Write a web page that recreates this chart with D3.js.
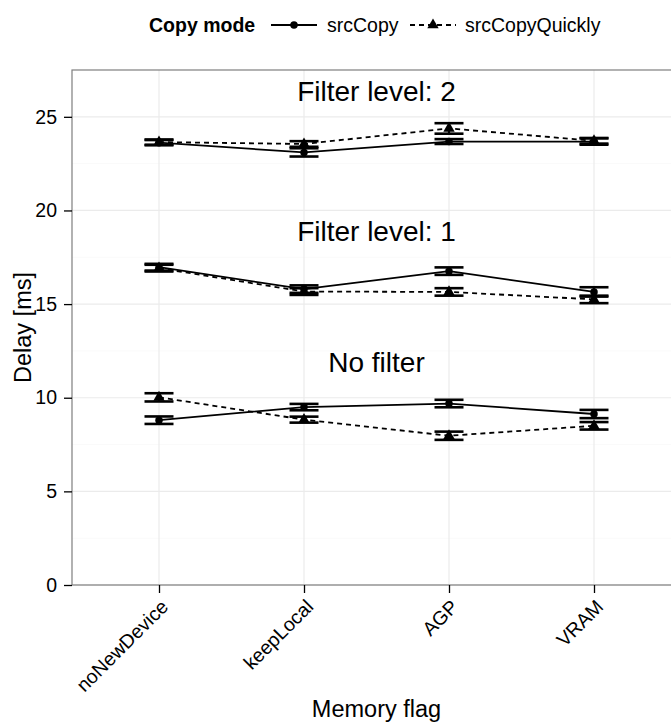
<!DOCTYPE html>
<html>
<head>
<meta charset="utf-8">
<script src="https://cdn.jsdelivr.net/npm/d3@7"></script>
<style>
  html, body { margin: 0; padding: 0; background: #fff; }
  svg { display: block; font-family: "Liberation Sans", Arial, Helvetica, sans-serif; }
</style>
</head>
<body>
<svg id="chart" width="671" height="726"></svg>
<script>
// Memory flags on the x axis
const memoryFlags = ["noNewDevice", "keepLocal", "AGP", "VRAM"];
const copyModes = ["srcCopy", "srcCopyQuickly"];

// Mean delay [ms] and error half-width per filter level, one entry per memory flag
const srcCopyNoFilter        = [8.80, 9.50, 9.69, 9.13];
const srcCopyNoFilterErr     = [0.20, 0.17, 0.20, 0.22];
const quicklyNoFilter        = [10.02, 8.83, 7.97, 8.50];
const quicklyNoFilterErr     = [0.22, 0.16, 0.22, 0.20];

const srcCopyFilter1         = [16.97, 15.80, 16.76, 15.65];
const srcCopyFilter1Err      = [0.18, 0.20, 0.20, 0.25];
const quicklyFilter1         = [16.92, 15.67, 15.65, 15.25];
const quicklyFilter1Err      = [0.18, 0.18, 0.20, 0.20];

const srcCopyFilter2         = [23.62, 23.10, 23.68, 23.68];
const srcCopyFilter2Err      = [0.14, 0.22, 0.13, 0.17];
const quicklyFilter2         = [23.65, 23.55, 24.38, 23.72];
const quicklyFilter2Err      = [0.14, 0.15, 0.28, 0.15];

// Group labels placed between the second and third flag
const groupLabels = ["No filter", "Filter level: 1", "Filter level: 2"];
const groupLabelY = [11.9, 18.9, 26.4];

const yTicks = [0, 5, 10, 15, 20, 25];
const yMinorTicks = [2.5, 7.5, 12.5, 17.5, 22.5];

const series = [
  { mode: "srcCopy", mean: srcCopyNoFilter, err: srcCopyNoFilterErr },
  { mode: "srcCopyQuickly", mean: quicklyNoFilter, err: quicklyNoFilterErr },
  { mode: "srcCopy", mean: srcCopyFilter1, err: srcCopyFilter1Err },
  { mode: "srcCopyQuickly", mean: quicklyFilter1, err: quicklyFilter1Err },
  { mode: "srcCopy", mean: srcCopyFilter2, err: srcCopyFilter2Err },
  { mode: "srcCopyQuickly", mean: quicklyFilter2, err: quicklyFilter2Err }
];

const svg = d3.select("#chart");
const panel = { left: 72, right: 681, top: 70, bottom: 585 };

// Discrete positions 1..4 with 0.6 padding on each side
const x = d3.scaleLinear().domain([0.4, 4.6]).range([panel.left, panel.right]);
const xPos = name => x(memoryFlags.indexOf(name) + 1);
const y = d3.scaleLinear().domain([0, 27.5]).range([panel.bottom, panel.top]);

const lineStyle = { srcCopy: null, srcCopyQuickly: "5,4" };
const symbolFor = m => m === "srcCopy"
  ? d3.symbol().type(d3.symbolCircle).size(44)
  : d3.symbol().type(d3.symbolTriangle).size(56);

// Grid
const grid = svg.append("g");
grid.selectAll(".ymin").data(yMinorTicks).join("line")
  .attr("x1", panel.left).attr("x2", panel.right)
  .attr("y1", d => y(d)).attr("y2", d => y(d))
  .attr("stroke", "#fafafa").attr("stroke-width", 1);
grid.selectAll(".ymaj").data(yTicks).join("line")
  .attr("x1", panel.left).attr("x2", panel.right)
  .attr("y1", d => y(d)).attr("y2", d => y(d))
  .attr("stroke", "#ebebeb").attr("stroke-width", 1.2);
grid.selectAll(".xmaj").data(memoryFlags).join("line")
  .attr("x1", d => xPos(d)).attr("x2", d => xPos(d))
  .attr("y1", panel.top).attr("y2", panel.bottom)
  .attr("stroke", "#ebebeb").attr("stroke-width", 1.2);

// Group labels
svg.append("g").selectAll("text").data(groupLabels).join("text")
  .attr("x", x(2.5))
  .attr("y", (d, i) => y(groupLabelY[i]))
  .attr("dy", "0.36em")
  .attr("text-anchor", "middle")
  .attr("font-size", 28)
  .attr("fill", "#000")
  .text(d => d);

const marks = svg.append("g");
const capHalf = (x(1.1) - x(1));

series.forEach(s => {
  const pts = memoryFlags.map((f, i) => ({ f, v: s.mean[i], e: s.err[i] }));
  // connecting line
  marks.append("path")
    .datum(pts)
    .attr("d", d3.line().x(d => xPos(d.f)).y(d => y(d.v)))
    .attr("fill", "none")
    .attr("stroke", "#000")
    .attr("stroke-width", 1.8)
    .attr("stroke-dasharray", lineStyle[s.mode]);
  // error bars
  const eb = marks.append("g").selectAll("g").data(pts).join("g");
  eb.append("line")
    .attr("x1", d => xPos(d.f)).attr("x2", d => xPos(d.f))
    .attr("y1", d => y(d.v - d.e)).attr("y2", d => y(d.v + d.e))
    .attr("stroke", "#000").attr("stroke-width", 2.2);
  [-1, 1].forEach(sign => {
    eb.append("line")
      .attr("x1", d => xPos(d.f) - capHalf).attr("x2", d => xPos(d.f) + capHalf)
      .attr("y1", d => y(d.v + sign * d.e)).attr("y2", d => y(d.v + sign * d.e))
      .attr("stroke", "#000").attr("stroke-width", 2.6);
  });
  // points
  marks.append("g").selectAll("path").data(pts).join("path")
    .attr("transform", d => `translate(${xPos(d.f)},${y(d.v)})`)
    .attr("d", symbolFor(s.mode))
    .attr("fill", "#000");
});

// Panel border
svg.append("rect")
  .attr("x", panel.left).attr("y", panel.top)
  .attr("width", panel.right - panel.left).attr("height", panel.bottom - panel.top)
  .attr("fill", "none").attr("stroke", "#7f7f7f").attr("stroke-width", 1.2);

// Y axis
const yAxis = svg.append("g")
  .attr("transform", `translate(${panel.left},0)`)
  .call(d3.axisLeft(y).tickValues(yTicks).tickSize(8).tickPadding(7).tickFormat(d3.format("d")));
yAxis.select(".domain").remove();
yAxis.selectAll(".tick line").attr("stroke", "#000").attr("stroke-width", 1.3);
yAxis.selectAll(".tick text").attr("font-size", 19.5).attr("fill", "#000")
  .attr("font-family", "Liberation Sans, Arial, sans-serif");

// X axis
const xAxis = svg.append("g")
  .attr("transform", `translate(0,${panel.bottom})`)
  .call(d3.axisBottom(d3.scalePoint().domain(memoryFlags).range([xPos("noNewDevice"), xPos("VRAM")]))
    .tickSize(8).tickPadding(4));
xAxis.select(".domain").remove();
xAxis.selectAll(".tick line").attr("stroke", "#000").attr("stroke-width", 1.3);
xAxis.selectAll(".tick text")
  .attr("font-size", 19.5).attr("fill", "#000")
  .attr("font-family", "Liberation Sans, Arial, sans-serif")
  .attr("text-anchor", "end")
  .attr("dy", null)
  .attr("y", 0)
  .attr("transform", "translate(10,23) rotate(-45)");

// Axis titles
svg.append("text")
  .attr("x", (panel.left + panel.right) / 2).attr("y", 717)
  .attr("text-anchor", "middle").attr("font-size", 23.5).attr("fill", "#000")
  .text("Memory flag");
svg.append("text")
  .attr("transform", `translate(31,${(panel.top + panel.bottom) / 2}) rotate(-90)`)
  .attr("text-anchor", "middle").attr("font-size", 23.5).attr("fill", "#000")
  .text("Delay [ms]");

// Legend
const legend = svg.append("g").attr("transform", "translate(0,25)");
legend.append("text").attr("x", 149).attr("y", 0).attr("dy", "0.35em")
  .attr("font-size", 19.5).attr("font-weight", "bold").text("Copy mode");
const keyX = [271, 410];
const textX = [327, 465];
copyModes.forEach((m, i) => {
  legend.append("line").attr("x1", keyX[i]).attr("x2", keyX[i] + 46)
    .attr("y1", 0).attr("y2", 0).attr("stroke", "#000").attr("stroke-width", 1.8)
    .attr("stroke-dasharray", lineStyle[m]);
  legend.append("path").attr("transform", `translate(${keyX[i] + 23},0)`)
    .attr("d", symbolFor(m)).attr("fill", "#000");
  legend.append("text").attr("x", textX[i]).attr("y", 0).attr("dy", "0.35em")
    .attr("font-size", 19.5).text(m);
});
</script>
</body>
</html>
